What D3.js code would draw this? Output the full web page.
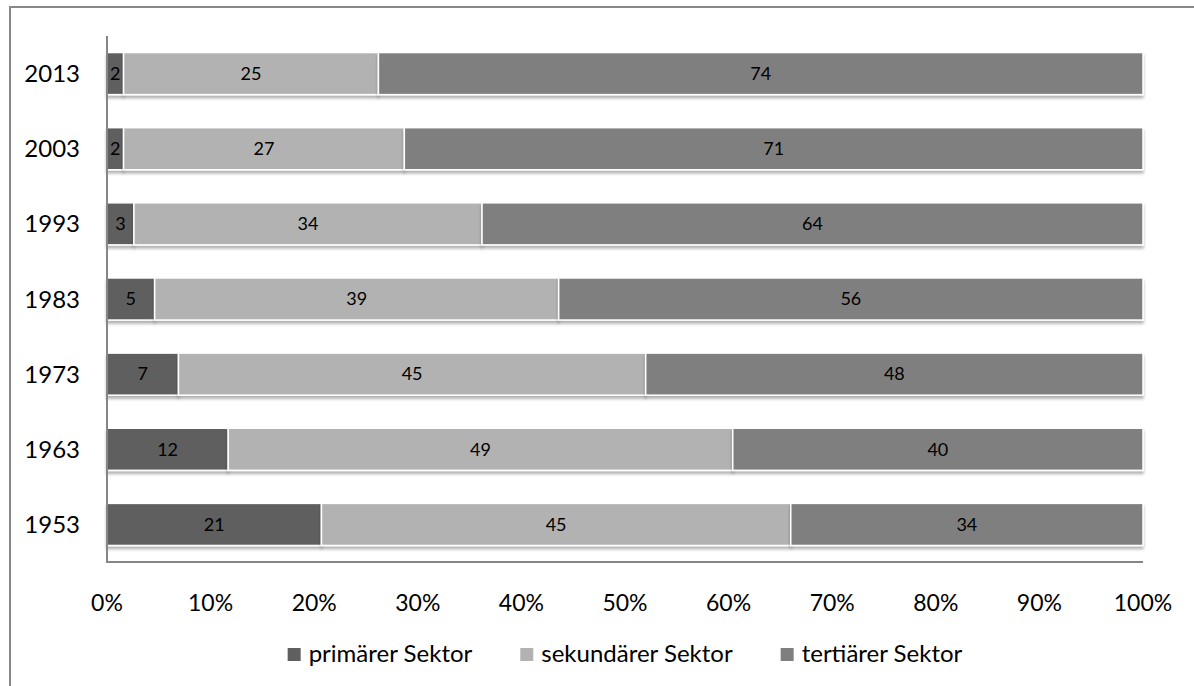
<!DOCTYPE html>
<html>
<head>
<meta charset="utf-8">
<script src="https://cdn.jsdelivr.net/npm/d3@7"></script>
<style>
  body { margin: 0; background: #fff; }
  svg { display: block; font-family: Lato, "Open Sans", sans-serif; }
</style>
</head>
<body>
<svg id="chart" width="1194" height="686"></svg>
<script>
// Data (shares in %, labels show rounded values)
const years = ["2013", "2003", "1993", "1983", "1973", "1963", "1953"];
const primaer = [1.6, 1.6, 2.6, 4.6, 6.9, 11.7, 20.7];
const sekundaer = [24.6, 27.1, 33.6, 39.0, 45.1, 48.7, 45.3];
const tertiaer = [73.8, 71.3, 63.8, 56.4, 48.0, 39.6, 34.0];
const seriesNames = ["primärer Sektor", "sekundärer Sektor", "tertiärer Sektor"];
const xTicks = [0, 0.1, 0.2, 0.3, 0.4, 0.5, 0.6, 0.7, 0.8, 0.9, 1];

const colors = ["#5f5f5f", "#b2b2b2", "#7f7f7f"];
const keys = ["p", "s", "t"];

const rows = years.map((y, i) => ({ year: y, p: primaer[i], s: sekundaer[i], t: tertiaer[i] }));

const svg = d3.select("#chart");

// outer frame (only left/top edges visible)
svg.append("rect")
    .attr("x", 10).attr("y", 7)
    .attr("width", 1200).attr("height", 700)
    .attr("fill", "none").attr("stroke", "#888").attr("stroke-width", 2);

// drop shadow for bars
const defs = svg.append("defs");
defs.append("filter").attr("id", "shadow")
    .attr("x", "-5%").attr("y", "-20%").attr("width", "110%").attr("height", "160%")
    .append("feDropShadow")
    .attr("dx", 0).attr("dy", 3).attr("stdDeviation", 1.6)
    .attr("flood-color", "#000").attr("flood-opacity", 0.3);

const plotLeft = 107, plotRight = 1143, plotTop = 36, plotBottom = 562;

const x = d3.scaleLinear().domain([0, 1]).range([plotLeft, plotRight]);
const y = d3.scaleBand().domain(years).range([plotTop, plotBottom])
    .paddingInner(0.44).paddingOuter(0.22);

const stack = d3.stack().keys(keys).offset(d3.stackOffsetExpand);
const stacked = stack(rows);

const layer = svg.append("g").selectAll("g")
    .data(stacked)
    .join("g")
    .attr("fill", (d, i) => colors[i])
    .attr("filter", "url(#shadow)");

layer.selectAll("rect")
    .data(d => d)
    .join("rect")
    .attr("x", d => x(d[0]))
    .attr("y", d => y(d.data.year))
    .attr("width", d => x(d[1]) - x(d[0]))
    .attr("height", y.bandwidth())
    .attr("stroke", "#fff")
    .attr("stroke-width", 1.5);

// data labels
const fmt = d3.format(".0f");
stacked.forEach((s, si) => {
    svg.append("g").selectAll("text")
        .data(s)
        .join("text")
        .attr("x", d => (x(d[0]) + x(d[1])) / 2)
        .attr("y", d => y(d.data.year) + y.bandwidth() / 2)
        .attr("dy", "0.35em")
        .attr("text-anchor", "middle")
        .attr("font-size", 18)
        .attr("fill", "#000")
        .text(d => fmt(d.data[keys[si]]));
});

// axes lines
svg.append("line")
    .attr("x1", plotLeft).attr("x2", plotLeft).attr("y1", plotTop).attr("y2", plotBottom + 1)
    .attr("stroke", "#868686").attr("stroke-width", 2);
svg.append("line")
    .attr("x1", plotLeft).attr("x2", plotRight).attr("y1", plotBottom).attr("y2", plotBottom)
    .attr("stroke", "#868686").attr("stroke-width", 2);

// category labels
svg.append("g").selectAll("text")
    .data(years)
    .join("text")
    .attr("x", 80)
    .attr("y", d => y(d) + y.bandwidth() / 2)
    .attr("dy", "0.36em")
    .attr("text-anchor", "end")
    .attr("font-size", 24)
    .attr("fill", "#000")
    .text(d => d);

// x tick labels
svg.append("g").selectAll("text")
    .data(xTicks)
    .join("text")
    .attr("x", d => x(d))
    .attr("y", 611)
    .attr("text-anchor", "middle")
    .attr("font-size", 23)
    .attr("fill", "#000")
    .text(d3.format(".0%"));

// legend
const legend = svg.append("g");
let lx = 0;
seriesNames.forEach((name, i) => {
    const g = legend.append("g").attr("transform", `translate(${lx},0)`);
    g.append("rect").attr("x", 0).attr("y", -14).attr("width", 13).attr("height", 13)
        .attr("fill", colors[i]);
    const t = g.append("text").attr("x", 21).attr("y", 0)
        .attr("font-size", 24).attr("fill", "#000").text(name);
    lx += 21 + t.node().getComputedTextLength() + 48;
});
const lw = lx - 48;
legend.attr("transform", `translate(${625 - lw / 2},662)`);
</script>
</body>
</html>
